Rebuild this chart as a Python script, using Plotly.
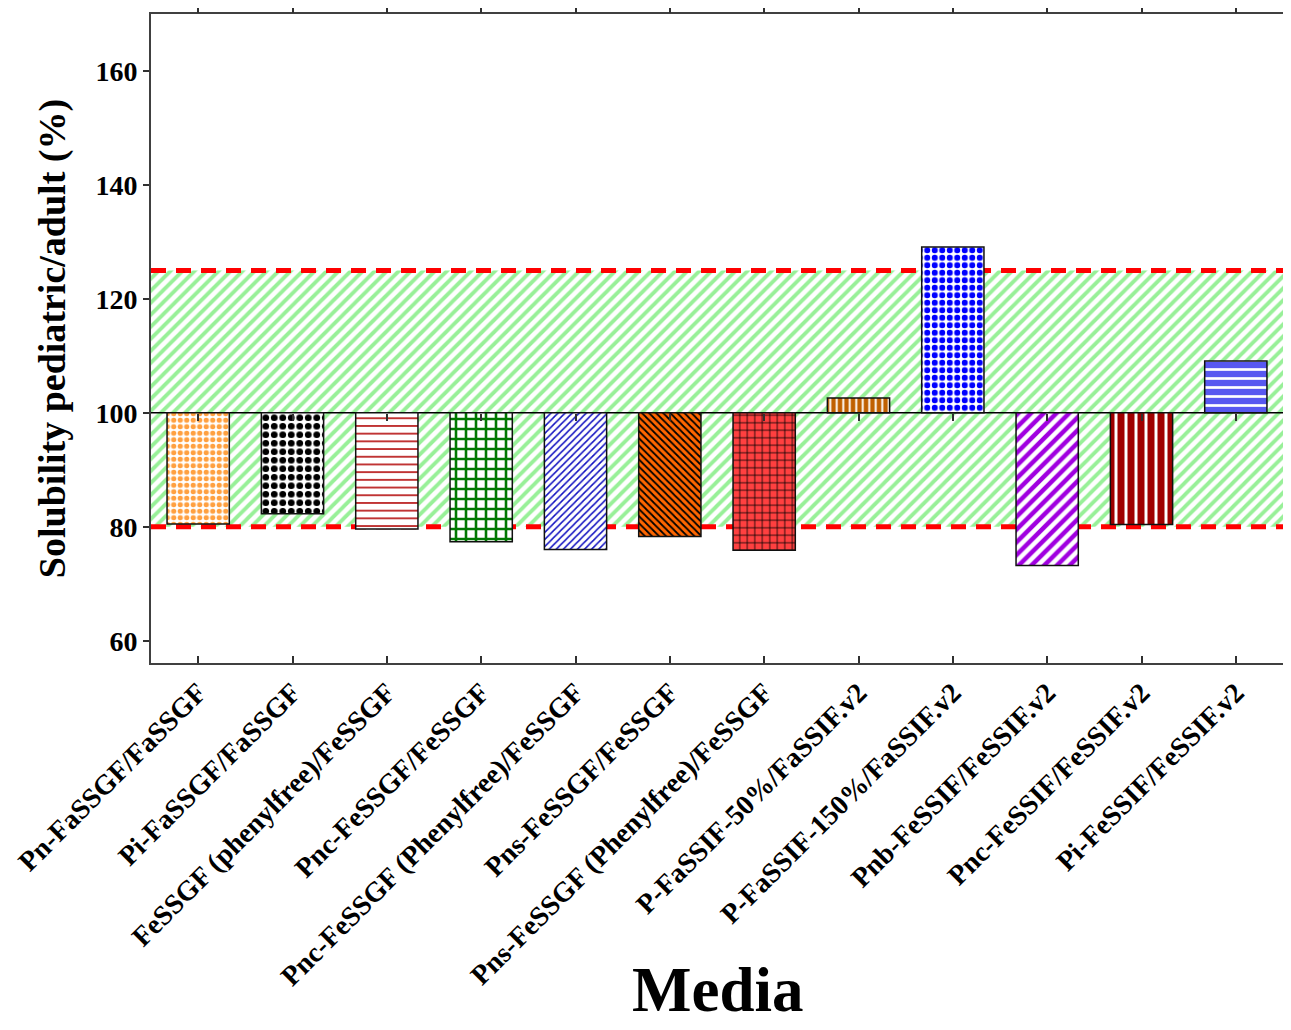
import plotly.graph_objects as go

categories = [
    "Pn-FaSSGF/FaSSGF",
    "Pi-FaSSGF/FaSSGF",
    "FeSSGF (phenylfree)/FeSSGF",
    "Pnc-FeSSGF/FeSSGF",
    "Pnc-FeSSGF (Phenylfree)/FeSSGF",
    "Pns-FeSSGF/FeSSGF",
    "Pns-FeSSGF (Phenylfree)/FeSSGF",
    "P-FaSSIF-50%/FaSSIF.v2",
    "P-FaSSIF-150%/FaSSIF.v2",
    "Pnb-FeSSIF/FeSSIF.v2",
    "Pnc-FeSSIF/FeSSIF.v2",
    "Pi-FeSSIF/FeSSIF.v2",
]
values = [80.5, 82.3, 79.6, 77.4, 76.0, 78.3, 75.9, 102.6, 129.1, 73.2, 80.4, 109.1]

BASE = 100
LOWER = 80
UPPER = 125
y_ticks = [60, 80, 100, 120, 140, 160]

shapes_ = [".", ".", "-", "+", "/", "\\", "+", "|", ".", "/", "|", "-"]
fgcols = ["#FFA040", "#000000", "#B00000", "#007800", "#1010C0", "#000000",
          "#000000", "#FFFFFF", "#0000FF", "#FFFFFF", "#FFFFFF", "#FFFFFF"]
bgcols = ["#FFFFFF", "#FFFFFF", "#FFFFFF", "#FFFFFF", "#FFFFFF", "#FF6600",
          "#FF4040", "#C06000", "#FFFFFF", "#A000E0", "#A00000", "#5858F0"]
psizes = [6.5, 8.5, 7.7, 10, 5, 5, 7.5, 6.5, 7.5, 9, 10, 9]
psolid = [0.5, 0.5, 0.2, 0.45, 0.3, 0.35, 0.2, 0.3, 0.5, 0.5, 0.3, 0.3]

x = list(range(len(categories)))
xr = [-0.5, len(categories) - 0.5]
YR = [56.1, 170]

fig = go.Figure()

# acceptance band 80-125 with light green hatch (main subplot, drawn first)
fig.add_trace(go.Scatter(
    x=[xr[0], xr[1], xr[1], xr[0], xr[0]],
    y=[LOWER, LOWER, UPPER, UPPER, LOWER],
    fill="toself", mode="none",
    fillcolor="rgba(0,0,0,0)",
    fillpattern=dict(shape="/", fgcolor="#98F098", bgcolor="#FFFFFF",
                     fgopacity=1, size=8.5, solidity=0.45),
    hoverinfo="skip", showlegend=False,
))

# baseline at 100
fig.add_trace(go.Scatter(
    x=xr, y=[BASE, BASE], mode="lines",
    line=dict(color="#000000", width=1.5), hoverinfo="skip", showlegend=False,
))

# red dashed limits
for lim in (UPPER, LOWER):
    fig.add_trace(go.Scatter(
        x=xr, y=[lim, lim], mode="lines",
        line=dict(color="#FF0000", width=5, dash="15px,10px"),
        hoverinfo="skip", showlegend=False,
    ))

# bars on an overlaid x axis so they sit above the band
for i, cat in enumerate(categories):
    fig.add_trace(go.Bar(
        x=[x[i]], y=[values[i] - BASE], base=[BASE],
        xaxis="x2", width=0.66, name=cat,
        marker=dict(
            color=bgcols[i],
            line=dict(color="#101010", width=1.5),
            pattern=dict(shape=shapes_[i], fgcolor=fgcols[i], bgcolor=bgcols[i],
                         fgopacity=1, size=psizes[i], solidity=psolid[i]),
        ),
        showlegend=False,
    ))

font_family = "Liberation Serif"
tick_font = dict(family=font_family, size=28, color="#000000", weight="bold")

common_hidden = dict(range=xr, overlaying="x", tickvals=x, showticklabels=False,
                     showline=False, showgrid=False, zeroline=False, automargin=False)

H = 1022
B = 367
PLOT_H = H - B - 6

fig.update_layout(
    width=1275, height=H,
    margin=dict(l=143, r=0, t=6, b=B),
    plot_bgcolor="#FFFFFF", paper_bgcolor="#FFFFFF",
    barmode="overlay",
    xaxis=dict(
        range=xr, tickvals=x, ticktext=categories, tickangle=-45,
        tickfont=tick_font, automargin=False,
        ticks="inside", ticklen=7, tickwidth=1.5, tickcolor="#303030",
        showline=True, linecolor="#404040", linewidth=2, mirror=True,
        showgrid=False, zeroline=False,
    ),
    xaxis2=dict(common_hidden, ticks=""),
    xaxis3=dict(common_hidden, side="top",
                ticks="outside", ticklen=7, tickwidth=1.5, tickcolor="#303030"),
    xaxis4=dict(common_hidden, anchor="free",
                position=(BASE - YR[0]) / (YR[1] - YR[0]),
                ticks="outside", ticklen=7, tickwidth=1.5, tickcolor="#303030"),
    yaxis=dict(
        range=YR, tickvals=y_ticks,
        tickfont=tick_font, automargin=False,
        ticks="outside", ticklen=6, tickwidth=1.5, tickcolor="#303030",
        showline=True, linecolor="#404040", linewidth=2, mirror=True,
        showgrid=False, zeroline=False,
        title=dict(text="Solubility pediatric/adult (%)",
                   font=dict(family=font_family, size=38, color="#000000", weight="bold"),
                   standoff=18),
    ),
    annotations=[dict(
        text="Media", xref="paper", yref="paper", x=0.5, y=-(B - 3) / PLOT_H,
        xanchor="center", yanchor="bottom", showarrow=False,
        font=dict(family=font_family, size=63, color="#000000", weight="bold"),
    )],
)

# invisible traces to activate the tick-only axes
for ax in ("x3", "x4"):
    fig.add_trace(go.Scatter(x=[0], y=[BASE], xaxis=ax, mode="markers",
                             marker=dict(opacity=0), hoverinfo="skip", showlegend=False))

fig.write_html("out.html")
